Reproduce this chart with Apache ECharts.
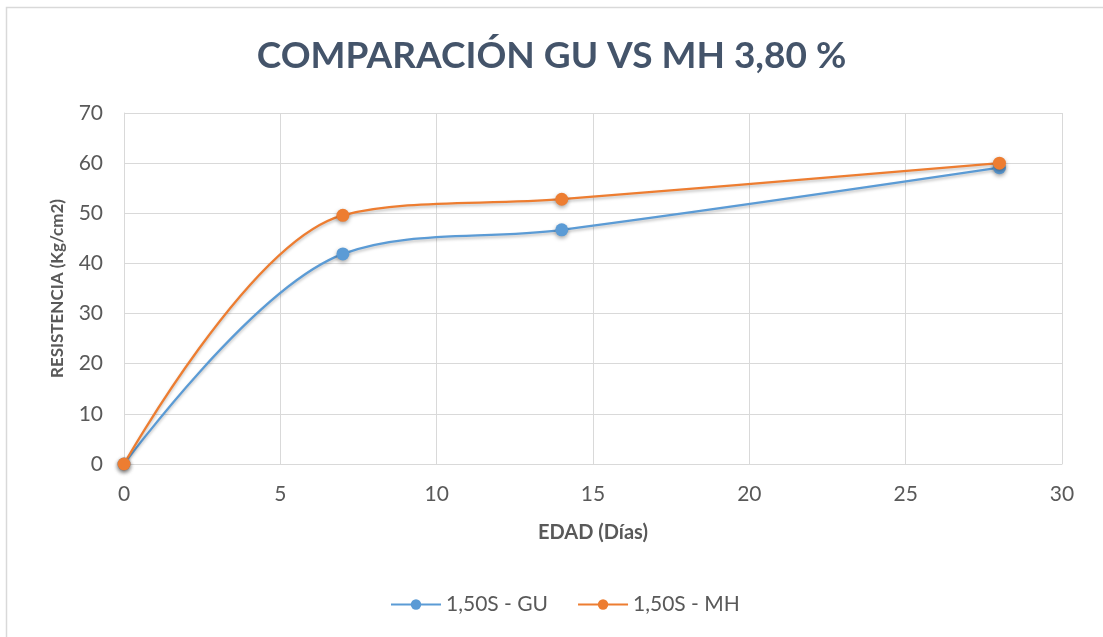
<!DOCTYPE html>
<html>
<head>
<meta charset="utf-8">
<script src="https://cdn.jsdelivr.net/npm/echarts@6/dist/echarts.min.js"></script>
<style>
  html, body { margin: 0; padding: 0; background: #ffffff; }
  #chart { width: 1103px; height: 637px; }
</style>
</head>
<body>
<div id="chart"></div>
<script>
// datos
const edadDias = [0, 7, 14, 28];
const resistGU = [0, 41.9, 46.7, 59.1];
const resistMH = [0, 49.6, 52.8, 60.0];
const seriesNames = ['1,50S - GU', '1,50S - MH'];

const chart = echarts.init(document.getElementById('chart'), null, { renderer: 'canvas' });

function pares(xs, ys) {
  return xs.map((x, i) => [x, ys[i]]);
}

function serie(name, color, values) {
  return {
    name: name,
    type: 'line',
    smooth: 0.35,
    data: pares(edadDias, values),
    symbol: 'circle',
    symbolSize: 13,
    lineStyle: {
      color: color,
      width: 2.25,
      shadowColor: 'rgba(0,0,0,0.25)',
      shadowBlur: 3,
      shadowOffsetY: 2
    },
    itemStyle: {
      color: color,
      shadowColor: 'rgba(0,0,0,0.35)',
      shadowBlur: 4,
      shadowOffsetY: 2
    },
    emphasis: { disabled: true }
  };
}

const txt = '#595959';
const font = 'Lato';

chart.setOption({
  animation: false,
  textStyle: { fontFamily: font },
  graphic: [{
    type: 'rect',
    shape: { x: 6.5, y: 7.5, width: 1200, height: 700 },
    style: { fill: 'none', stroke: '#d9d9d9', lineWidth: 1.5 },
    silent: true
  }],
  title: {
    text: 'COMPARACIÓN GU VS MH 3,80 %',
    left: 'center',
    top: 33,
    textStyle: { fontFamily: font, fontSize: 37, fontWeight: 'bold', color: '#44546a' }
  },
  grid: { left: 124, right: 41, top: 113, bottom: 173 },
  legend: {
    top: 589,
    left: 385,
    itemWidth: 50,
    itemHeight: 13,
    itemGap: 29,
    textStyle: { fontFamily: font, fontSize: 21, color: txt }
  },
  xAxis: {
    type: 'value',
    min: 0, max: 30, interval: 5,
    name: 'EDAD (Días)',
    nameLocation: 'middle',
    nameGap: 59,
    nameTextStyle: { fontFamily: font, fontSize: 20, fontWeight: 'bold', color: txt },
    axisLine: { show: true, lineStyle: { color: '#d9d9d9', width: 1 } },
    axisTick: { show: false },
    axisLabel: { fontFamily: font, fontSize: 21, color: txt, margin: 20 },
    splitLine: { show: true, lineStyle: { color: '#d9d9d9', width: 1 } }
  },
  yAxis: {
    type: 'value',
    min: 0, max: 70, interval: 10,
    name: 'RESISTENCIA (Kg/cm2)',
    nameLocation: 'middle',
    nameGap: 58,
    nameTextStyle: { fontFamily: font, fontSize: 17, fontWeight: 'bold', color: txt },
    axisLine: { show: true, lineStyle: { color: '#d9d9d9', width: 1 } },
    axisTick: { show: false },
    axisLabel: { fontFamily: font, fontSize: 21, color: txt, margin: 21 },
    splitLine: { show: true, lineStyle: { color: '#d9d9d9', width: 1 } }
  },
  series: [
    serie(seriesNames[0], '#5b9bd5', resistGU),
    serie(seriesNames[1], '#ed7d31', resistMH)
  ]
});
</script>
</body>
</html>
